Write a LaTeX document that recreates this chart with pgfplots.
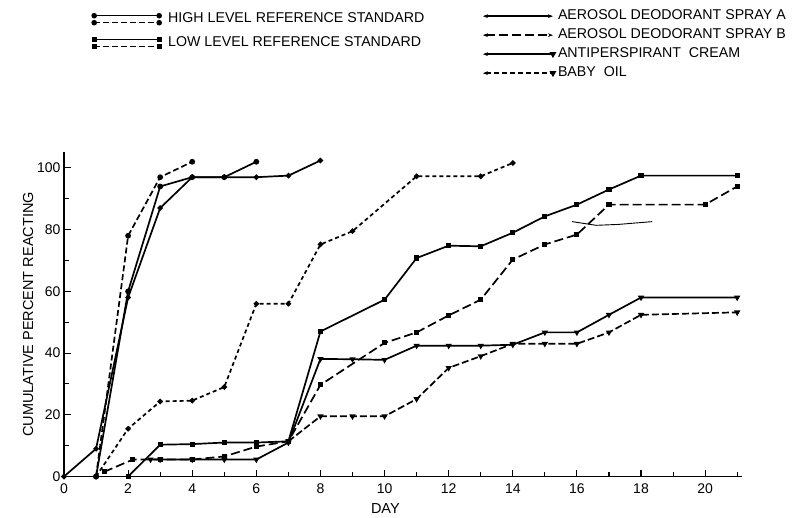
\documentclass[border=0pt]{standalone}
\usepackage{fontspec}
\setmainfont{Liberation Sans}
\usepackage{pgfplots}
\pgfplotsset{compat=1.18}
\usetikzlibrary{arrows.meta}
\begin{document}
\begin{tikzpicture}
\path[use as bounding box] (0pt,0pt) rectangle (803pt,-518pt);
\begin{axis}[
 at={(64pt,-476.5pt)}, anchor=south west,
 scale only axis, width=678pt, height=324pt,
 xmin=0, xmax=21.15, ymin=0, ymax=105,
 axis x line=bottom, axis y line=left,
 axis line style={-, line width=1.4pt},
 xtick={0,2,...,20}, minor xtick={1,3,...,21},
 ytick={0,20,...,100}, minor ytick={10,30,...,90},
 tick align=inside, major tick length=7pt, minor tick length=5pt,
 every tick/.style={line width=1.1pt, black},
 /pgf/number format/assume math mode=true,
 ticklabel style={font=\fontsize{14}{16}\selectfont},
 xticklabel style={yshift=-4pt},
 xlabel={DAY}, ylabel={CUMULATIVE PERCENT REACTING},
 label style={font=\fontsize{14.5}{16}\selectfont},
 xlabel style={at={(ticklabel cs:0.474)}, yshift=-3pt},
 ylabel style={yshift=-3pt},
 legend style={at={(0.6165,1.443)}, anchor=north west, draw=none, fill=none,
   inner sep=0pt, row sep=5pt, font=\fontsize{14.2}{16}\selectfont,
   nodes={inner sep=0pt, text height=10pt, text depth=4pt},
   /tikz/every odd column/.append style={column sep=3pt}},
 legend cell align=left,
 legend image code/.code={\draw[#1] plot coordinates {(0pt,0pt) (70pt,0pt)};},
]
% High level reference standard (solid, dashed)
\addplot[forget plot, line width=1.7pt, mark=*, mark size=2pt] coordinates {
 (1,0) (2,60) (3,94) (4,97) (5,97) (6,102)};
\addplot[forget plot, line width=1.7pt, dash pattern=on 6pt off 3pt, mark=*, mark size=2pt, mark options={solid}] coordinates {
 (1,0) (2,78) (3,97) (4,102)};
% Low level reference standard (solid, dashed)
\addplot[forget plot, line width=1.7pt, mark=*, mark size=1.8pt] coordinates {
 (0,0) (1,9) (2,58) (3,87) (4,97) (5,97) (6,97) (7,97.5) (8,102.4)};
\addplot[forget plot, line width=1.7pt, dash pattern=on 4pt off 3pt, mark=*, mark size=1.8pt, mark options={solid}] coordinates {
 (1,0) (2,15.5) (3,24.3) (4,24.6) (5,29) (6,56) (7,56) (8,75.2) (9,79.5) (11,97.3) (13,97.3) (14,101.6)};
% Aerosol deodorant spray A
\addplot[forget plot, line width=1.7pt, mark=square*, mark size=1.7pt] coordinates {
 (2,0) (3,10.3) (4,10.5) (5,11) (6,11) (7,11.4) (8,47) (10,57.3) (11,70.8) (12,74.8) (13,74.6) (14,79) (15,84.3) (16,88.1) (17,93) (18,97.5) (21,97.5)};
% Aerosol deodorant spray B
\addplot[forget plot, line width=1.7pt, dash pattern=on 9pt off 4pt, mark=square*, mark size=1.7pt, mark options={solid}] coordinates {
 (1.25,1.5) (2.15,5.5) (3,5.5) (4,5.5) (5,6.5) (6,9.7) (7,11.4) (8,29.7) (10,43.3) (11,46.7) (12,52.2) (13,57.3) (14,70.3) (15,75.2) (16,78.4) (17,88.1) (20,88.1) (21,94)};
% Antiperspirant cream
\addplot[forget plot, line width=1.7pt, mark=triangle*, mark size=2pt, mark options={rotate=180}] coordinates {
 (2.7,5.5) (3,5.5) (4,5.5) (5,5.5) (6,5.5) (7,11) (8,38.1) (9,38) (10,37.8) (11,42.4) (12,42.4) (13,42.4) (14,42.7) (15,46.7) (16,46.7) (17,52.4) (18,58) (21,58)};
% Baby oil
\addplot[forget plot, line width=1.7pt, dash pattern=on 7pt off 3pt, mark=triangle*, mark size=2pt, mark options={solid, rotate=180}] coordinates {
 (7,11.4) (8,19.5) (9,19.5) (10,19.5) (11,25.1) (12,35.2) (13,39) (14,43) (15,43) (16,43) (17,46.7) (18,52.4) (21,53.2)};
% stray thin line
\addplot[forget plot, line width=0.9pt] coordinates {
 (15.85,82.6) (16.6,81.4) (17.3,81.7) (18.35,82.6)};
% legend (right column)
\addlegendimage{line width=1.5pt, {Stealth[length=5pt]}-{Stealth[length=5pt]}}
\addlegendentry{AEROSOL DEODORANT SPRAY A}
\addlegendimage{line width=1.5pt, dash pattern=on 9pt off 4pt, {Stealth[length=5pt]}-{Stealth[length=5pt]}}
\addlegendentry{AEROSOL DEODORANT SPRAY B}
\addlegendimage{line width=1.5pt, {Stealth[length=5pt]}-, mark=triangle*, mark size=2.4pt, mark indices={2}, mark options={rotate=180}}
\addlegendentry{ANTIPERSPIRANT\ \ CREAM}
\addlegendimage{line width=1.5pt, dash pattern=on 5pt off 3pt, {Stealth[length=5pt]}-, mark=triangle*, mark size=2.4pt, mark indices={2}, mark options={solid, rotate=180}}
\addlegendentry{BABY\ \ OIL}
\end{axis}
% left legend column
\begin{axis}[
 at={(92pt,-12pt)}, anchor=north west, scale only axis, width=1pt, height=1pt,
 hide axis, xmin=0, xmax=1, ymin=0, ymax=1,
 legend style={at={(0,1)}, anchor=north west, draw=none, fill=none,
   inner sep=0pt, row sep=10pt, font=\fontsize{14.2}{16}\selectfont,
   nodes={inner sep=0pt, text height=10pt, text depth=4pt},
   /tikz/every odd column/.append style={column sep=7pt}},
 legend cell align=left,
 legend image code/.code={
   \draw[#1] plot coordinates {(0pt,3.5pt) (65pt,3.5pt)};
   \draw[#1, dash pattern=on 6pt off 3pt] plot coordinates {(0pt,-3.5pt) (65pt,-3.5pt)};},
]
\addlegendimage{line width=1.5pt, mark=*, mark size=2pt, mark options={solid}}
\addlegendentry{HIGH LEVEL REFERENCE STANDARD}
\addlegendimage{line width=1.5pt, mark=square*, mark size=1.7pt, mark options={solid}}
\addlegendentry{LOW LEVEL REFERENCE STANDARD}
\end{axis}
\end{tikzpicture}
\end{document}
